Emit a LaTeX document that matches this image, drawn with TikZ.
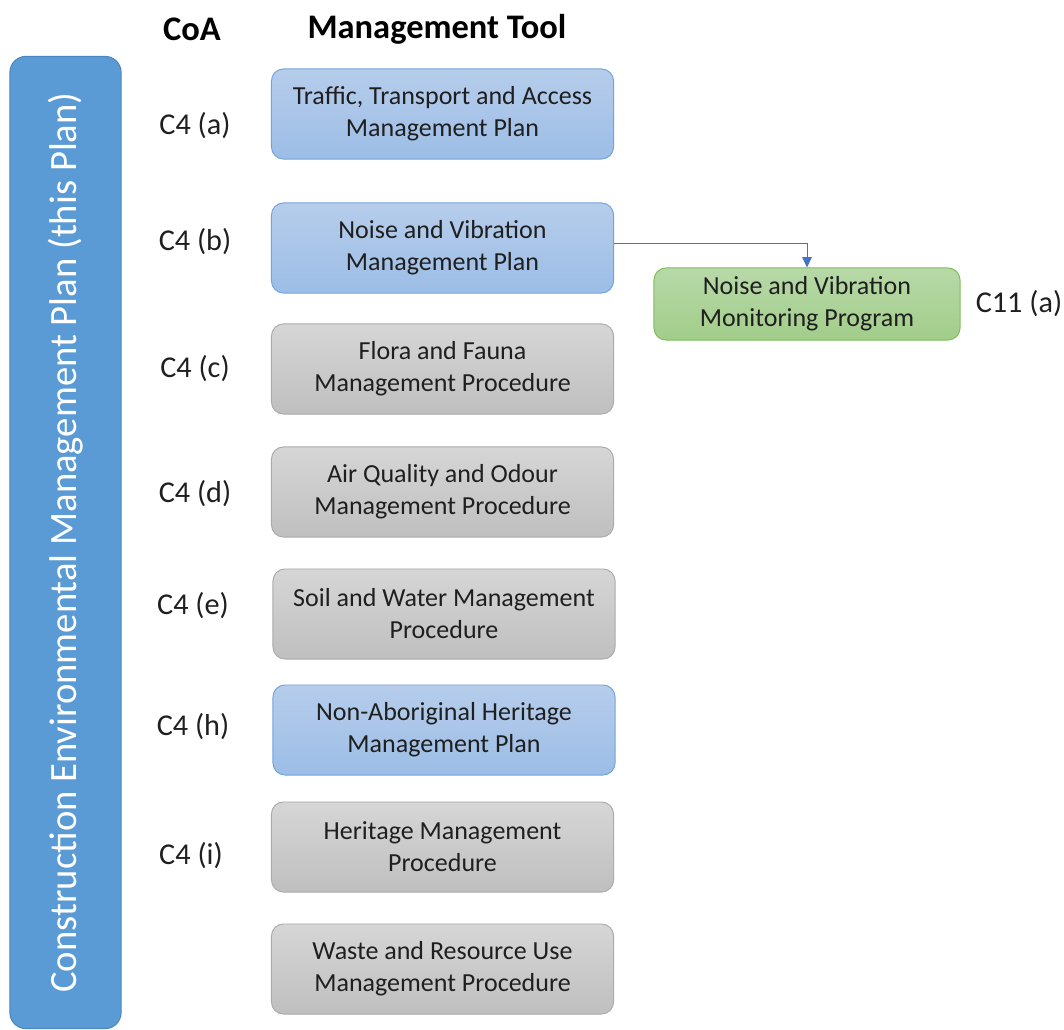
\documentclass[tikz,border=0pt]{standalone}
\usepackage{fontspec}
\setmainfont{Carlito}
\usetikzlibrary{positioning,arrows.meta}
\definecolor{plantop}{HTML}{B6CDEB}
\definecolor{planbot}{HTML}{9CBDE6}
\definecolor{planedge}{HTML}{74A3DC}
\definecolor{proctop}{HTML}{D6D6D6}
\definecolor{procbot}{HTML}{BFBFBF}
\definecolor{procedge}{HTML}{ABABAB}
\definecolor{montop}{HTML}{B7D9A8}
\definecolor{monbot}{HTML}{A2CD8A}
\definecolor{monedge}{HTML}{7EBD5C}
\definecolor{cempblue}{HTML}{5B9BD5}
\definecolor{cempedge}{HTML}{4A86BF}
\definecolor{linkblue}{HTML}{4472C4}
\tikzset{
  toolbox/.style={rectangle, rounded corners=0.3cm, draw, line width=0.7pt,
                  minimum width=8.55cm, minimum height=2.25cm, align=center,
                  font=\fontsize{18.5}{22.8}\selectfont, text=black!88},
  toolplan/.style={toolbox, draw=planedge, top color=plantop, bottom color=planbot},
  toolproc/.style={toolbox, draw=procedge, top color=proctop, bottom color=procbot},
  toolmon/.style={toolbox, draw=monedge, top color=montop, bottom color=monbot,
                  minimum width=7.65cm, minimum height=1.8cm},
  coalabel/.style={font=\fontsize{21.5}{24}\selectfont, text=black!88},
  colhead/.style={font=\fontsize{24.5}{28}\selectfont\bfseries},
  cempbar/.style={rectangle, rounded corners=0.4cm, draw=cempedge, fill=cempblue,
                  line width=0.7pt, rotate=90, minimum width=24.3cm,
                  minimum height=2.78cm, text=white,
                  font=\fontsize{27.5}{32}\selectfont},
  linkarrow/.style={draw=linkblue, line width=0.7pt,
                    -{Triangle[length=0.26cm, width=0.24cm]}}
}
\begin{document}
\begin{tikzpicture}[x=0.025cm, y=-0.025cm]
  \useasboundingbox (0,0) rectangle (1064,1030);
  % column heads
  \node[colhead] (hcoa) at (192,29) {CoA};
  \node[colhead] (htool) at (437,29) {Management Tool};
  % the plan itself
  \node[cempbar] (cemp) at (65.5,542.5)
    {Construction Environmental Management Plan (this Plan)};
  % management tools
  \node[toolplan] (tta)  at (442.5,114) {Traffic, Transport and Access\\Management Plan};
  \node[toolplan] (nvmp) at (442.5,248) {Noise and Vibration\\Management Plan};
  \node[toolproc] (ffmp) at (442.5,369) {Flora and Fauna\\Management Procedure};
  \node[toolproc] (aqmp) at (442.5,492) {Air Quality and Odour\\Management Procedure};
  \node[toolproc] (swmp) at (444,614) {Soil and Water Management\\Procedure};
  \node[toolplan] (nahp) at (444,730) {Non-Aboriginal Heritage\\Management Plan};
  \node[toolproc] (hmp)  at (442.5,847) {Heritage Management\\Procedure};
  \node[toolproc] (wrmp) at (442.5,969) {Waste and Resource Use\\Management Procedure};
  % conditions of approval
  \node[coalabel] (ca) at (195,126) {C4 (a)};
  \node[coalabel] (cb) at (195,242) {C4 (b)};
  \node[coalabel] (cc) at (195,369) {C4 (c)};
  \node[coalabel] (cd) at (195,494) {C4 (d)};
  \node[coalabel] (ce) at (193,606) {C4 (e)};
  \node[coalabel] (ch) at (193,727) {C4 (h)};
  \node[coalabel] (ci) at (191,856) {C4 (i)};
  % monitoring program
  \node[toolmon] (nvmon) at (807,304) {Noise and Vibration\\Monitoring Program};
  \node[coalabel] (cmon) at (1019,304) {C11 (a)};
  \draw[linkarrow] ([yshift=0.12cm]nvmp.east) -| (nvmon.north);
\end{tikzpicture}
\end{document}
